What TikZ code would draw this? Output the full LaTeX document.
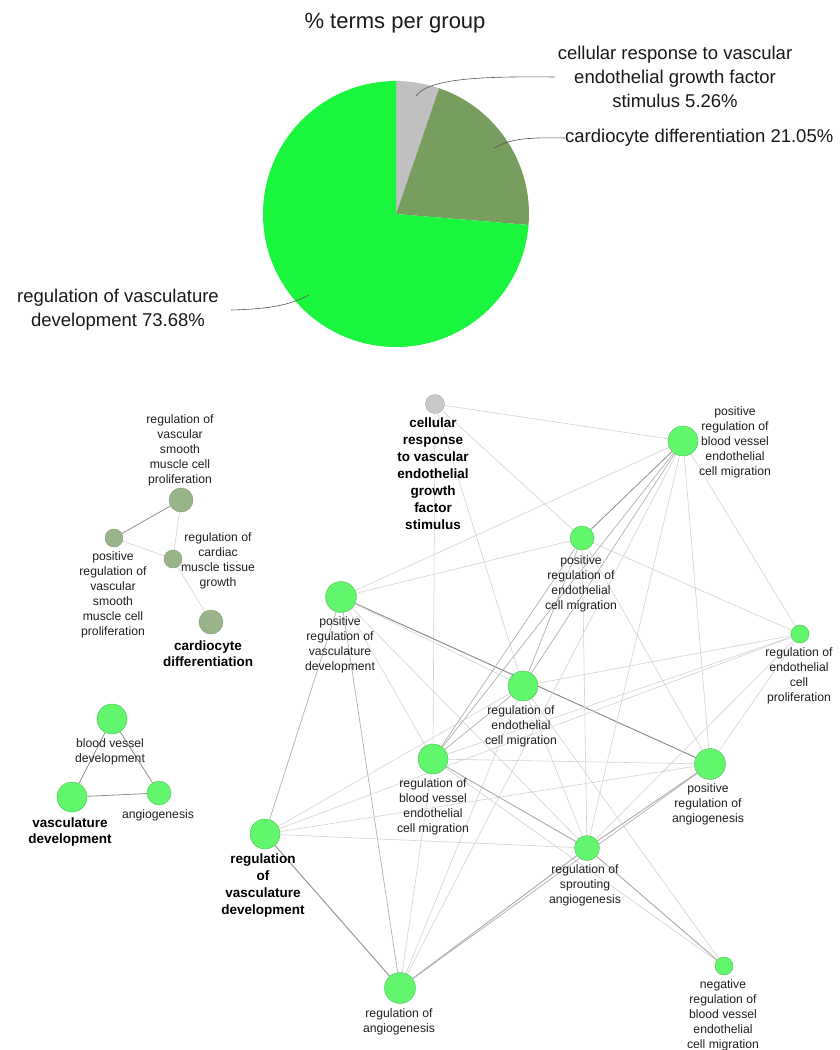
\documentclass[tikz,border=0pt]{standalone}
\usepackage{fontspec}
\setmainfont{Liberation Sans}
\usetikzlibrary{backgrounds}
\definecolor{gB}{HTML}{1AF53E}
\definecolor{gD}{HTML}{789E5F}
\definecolor{gG}{HTML}{C0C0C0}
\definecolor{nG}{HTML}{62F66C}
\definecolor{nGb}{HTML}{4DBF57}
\definecolor{nS}{HTML}{99B489}
\definecolor{nSb}{HTML}{7C9A6C}
\definecolor{nC}{HTML}{C9C9C9}
\definecolor{nCb}{HTML}{A8A8A8}
\definecolor{eL}{HTML}{D2D2D2}
\definecolor{eM}{HTML}{B0B0B0}
\definecolor{eD}{HTML}{8E8E8E}
\definecolor{lead}{HTML}{555555}
\begin{document}
\begin{tikzpicture}[x=1pt,y=-1pt,
  term/.style={circle,inner sep=0pt,minimum size=#1,draw=nGb,fill=nG,line width=0.4pt},
  sage/.style={circle,inner sep=0pt,minimum size=#1,draw=nSb,fill=nS,line width=0.4pt},
  grey/.style={circle,inner sep=0pt,minimum size=#1,draw=nCb,fill=nC,line width=0.4pt},
  lab/.style={align=center,inner sep=0pt,anchor=north,text=black!88,font=\fontsize{12.2}{15}\selectfont},
  blab/.style={align=center,inner sep=0pt,anchor=north,text=black,font=\fontsize{13.5}{17}\selectfont\bfseries},
  pielab/.style={align=center,inner sep=0pt,text=black!90,font=\fontsize{18.5}{24}\selectfont},
  eLt/.style={draw=eL,line width=0.6pt},
  eMd/.style={draw=eM,line width=0.7pt},
  eDb/.style={draw=eM,line width=1.0pt},
  eDk/.style={draw=eD,line width=1.0pt},
  leader/.style={draw=lead,line width=0.6pt}]
\useasboundingbox (0,0) rectangle (840,1050);

% ---------- pie chart ----------
\node[pielab,font=\fontsize{22}{26}\selectfont] (title) at (395,23) {\% terms per group};
\begin{scope}[shift={(396,214)},y=1pt]
  \fill[gG] (0,0) -- (90:133pt) arc[start angle=90,end angle=71.06,radius=133pt] -- cycle;
  \fill[gD] (0,0) -- (71.06:133pt) arc[start angle=71.06,end angle=-4.72,radius=133pt] -- cycle;
  \fill[gB] (0,0) -- (-4.72:133pt) arc[start angle=-4.72,end angle=-270,radius=133pt] -- cycle;
\end{scope}
\coordinate (pg) at (416,96);
\coordinate (pd) at (494,148);
\coordinate (pb) at (309,295);
\node[pielab] (lg) at (675,77) {cellular response to vascular\\endothelial growth factor\\stimulus 5.26\%};
\node[pielab,anchor=west] (ld) at (565,138) {cardiocyte differentiation 21.05\%};
\node[pielab] (lb) at (118,310) {regulation of vasculature\\development 73.68\%};
\draw[leader] (pg) .. controls (428,80) and (470,76) .. ([xshift=-3pt]lg.west);
\draw[leader] (pd) .. controls (510,140) and (520,137) .. (ld.west);
\draw[leader] (pb) .. controls (290,305) and (270,309) .. ([xshift=12pt]lb.east);

% ---------- left cluster: cardiocyte ----------
\node[sage=24pt] (rvsmcp) at (181,500) {};
\node[sage=18pt] (prvsmcp) at (114,538) {};
\node[sage=18pt] (rcmtg) at (173,559) {};
\node[sage=24pt] (cd) at (211,622) {};
\node[lab] (l-rvsmcp) at (180,414) {regulation of\\vascular\\smooth\\muscle cell\\proliferation};
\node[lab] (l-prvsmcp) at (113,551) {positive\\regulation of\\vascular\\smooth\\muscle cell\\proliferation};
\node[lab] (l-rcmtg) at (218,532) {regulation of\\cardiac\\muscle tissue\\growth};
\node[blab,font=\fontsize{13.5}{16.5}\selectfont\bfseries] (l-cd) at (208,640.5) {cardiocyte\\differentiation};

% ---------- left cluster: vasculature development ----------
\node[term=30pt] (bvd) at (112,719) {};
\node[term=30pt] (vd) at (72,797) {};
\node[term=24pt] (ag) at (159,793) {};
\node[lab] (l-bvd) at (110,738) {blood vessel\\development};
\node[blab,font=\fontsize{13.5}{16.5}\selectfont\bfseries] (l-vd) at (70,817.5) {vasculature\\development};
\node[lab] (l-ag) at (158,809) {angiogenesis};

% ---------- main network ----------
\node[grey=19pt] (cr) at (435,404) {};
\node[term=30pt] (prbvecm) at (683,441) {};
\node[term=24pt] (prec) at (582,538) {};
\node[term=31pt] (prvd) at (341,597) {};
\node[term=18pt] (rep) at (800,634) {};
\node[term=30pt] (rec) at (523,686) {};
\node[term=30pt] (rbvecm) at (433,759) {};
\node[term=31pt] (pra) at (710,764) {};
\node[term=30pt] (rvd) at (265,834) {};
\node[term=25pt] (rsa) at (587,848) {};
\node[term=18pt] (nrbv) at (724,966) {};
\node[term=31pt] (ra) at (400,988) {};

\node[blab] (l-cr) at (433,417.5) {cellular\\response\\to vascular\\endothelial\\growth\\factor\\stimulus};
\node[lab] (l-prbvecm) at (735,406) {positive\\regulation of\\blood vessel\\endothelial\\cell migration};
\node[lab] (l-prec) at (581,555) {positive\\regulation of\\endothelial\\cell migration};
\node[lab] (l-prvd) at (340,616) {positive\\regulation of\\vasculature\\development};
\node[lab] (l-rep) at (799,647) {regulation of\\endothelial\\cell\\proliferation};
\node[lab] (l-rec) at (521,705) {regulation of\\endothelial\\cell migration};
\node[lab] (l-rbvecm) at (433,778) {regulation of\\blood vessel\\endothelial\\cell migration};
\node[lab] (l-pra) at (708,783) {positive\\regulation of\\angiogenesis};
\node[blab] (l-rvd) at (263,853.5) {regulation\\of\\vasculature\\development};
\node[lab] (l-rsa) at (585,864) {regulation of\\sprouting\\angiogenesis};
\node[lab] (l-nrbv) at (723,979) {negative\\regulation of\\blood vessel\\endothelial\\cell migration};
\node[lab] (l-ra) at (399,1008) {regulation of\\angiogenesis};

\begin{pgfonlayer}{background}
  % cardiocyte cluster
  \draw[eDk,line width=0.8pt] (rvsmcp) -- (prvsmcp);
  \draw[eLt] (rvsmcp) -- (rcmtg);
  \draw[eLt] (prvsmcp) -- (rcmtg);
  \draw[eLt] (rcmtg) -- (cd);
  % vasculature development cluster
  \draw[eDk,line width=0.8pt] (bvd) -- (vd);
  \draw[eDk,line width=0.8pt] (bvd) -- (ag);
  \draw[eDk,line width=0.8pt] (vd) -- (ag);
  % main network
  \draw[eLt] (cr) -- (prbvecm);
  \draw[eLt] (cr) -- (prec);
  \draw[eLt] (cr) -- (rbvecm);
  \draw[eLt] (cr) -- (rec);
  \draw[eLt] (prvd) -- (prbvecm);
  \draw[eLt] (prvd) -- (prec);
  \draw[eDk] (prvd) -- (pra);
  \draw[eLt] (prvd) -- (rec);
  \draw[eLt] (prvd) -- (rbvecm);
  \draw[eLt] (prvd) -- (rsa);
  \draw[eMd] (prvd) -- (ra);
  \draw[eMd] (prvd) -- (rvd);
  \draw[eDk,line width=0.8pt] (prbvecm) -- (prec);
  \draw[eMd] (prbvecm) -- (rec);
  \draw[eMd] (prbvecm) -- (rbvecm);
  \draw[eLt] (prbvecm) -- (ra);
  \draw[eLt] (prbvecm) -- (rsa);
  \draw[eLt] (prbvecm) -- (pra);
  \draw[eLt] (prbvecm) -- (rep);
  \draw[eMd] (prec) -- (rbvecm);
  \draw[eMd] (prec) -- (rec);
  \draw[eLt] (prec) -- (rsa);
  \draw[eLt] (prec) -- (pra);
  \draw[eLt] (prec) -- (rep);
  \draw[eLt] (rec) -- (rep);
  \draw[eLt] (rec) -- (rsa);
  \draw[eLt] (rec) -- (nrbv);
  \draw[eLt] (rec) -- (ra);
  \draw[eMd] (rec) -- (rbvecm);
  \draw[eLt] (rbvecm) -- (pra);
  \draw[eLt] (rbvecm) -- (rep);
  \draw[eDb] (rbvecm) -- (rsa);
  \draw[eLt] (rbvecm) -- (nrbv);
  \draw[eDb] (rsa) -- (pra);
  \draw[eDb] (rsa) -- (nrbv);
  \draw[eLt] (rsa) -- (rep);
  \draw[eLt] (rep) -- (pra);
  \draw[eDb] (ra) -- (rsa);
  \draw[eMd] (ra) -- (pra);
  \draw[eLt] (ra) -- (rbvecm);
  \draw[eDk,line width=0.9pt] (ra) -- (rvd);
  \draw[eLt] (rvd) -- (rec);
  \draw[eLt] (rvd) -- (rep);
  \draw[eLt] (rvd) -- (pra);
  \draw[eLt] (rvd) -- (rsa);
\end{pgfonlayer}
\end{tikzpicture}
\end{document}
